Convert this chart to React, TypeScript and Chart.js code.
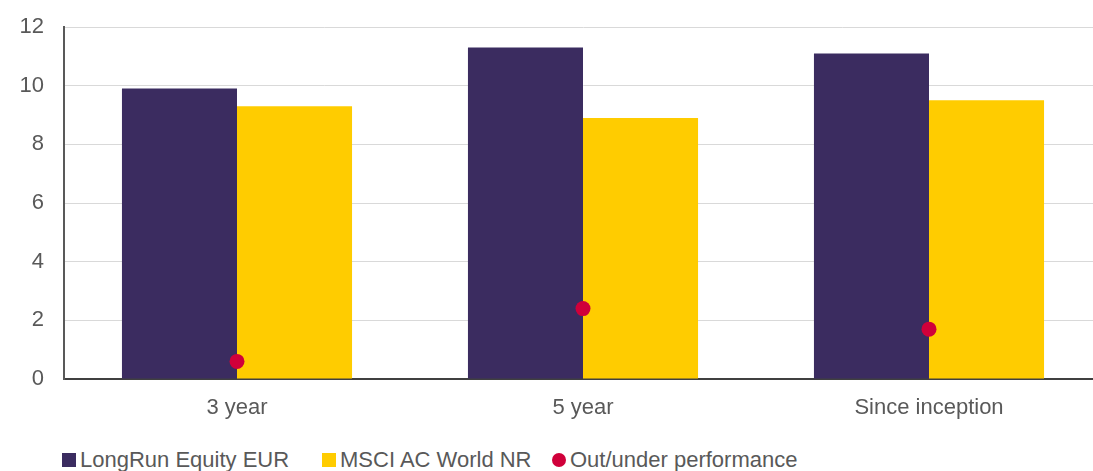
import React, { useEffect, useRef } from "react";
import { Chart, registerables } from "chart.js";

Chart.register(...registerables);

const categories = ["3 year", "5 year", "Since inception"];
const longRunValues = [9.9, 11.3, 11.1];
const msciValues = [9.3, 8.9, 9.5];
const outUnderValues = [0.6, 2.4, 1.7];
const yTicks = [0, 2, 4, 6, 8, 10, 12];

const seriesNames = ["LongRun Equity EUR", "MSCI AC World NR", "Out/under performance"];
const colors = ["#3b2c60", "#ffcc00", "#d0003a"];

const FONT = "'Liberation Sans', Arial, sans-serif";
const TEXT = "#595959";

export default function App() {
  const ref = useRef<HTMLCanvasElement | null>(null);

  useEffect(() => {
    if (!ref.current) return;
    const chart = new Chart(ref.current, {
      type: "bar",
      data: {
        labels: categories,
        datasets: [
          {
            type: "line",
            label: seriesNames[2],
            data: outUnderValues,
            showLine: false,
            pointRadius: 7.5,
            pointHoverRadius: 7.5,
            pointBackgroundColor: colors[2],
            pointBorderColor: colors[2],
            pointBorderWidth: 0,
            backgroundColor: colors[2],
            borderColor: colors[2],
            order: 0,
          } as any,
          {
            label: seriesNames[0],
            data: longRunValues,
            backgroundColor: colors[0],
            borderWidth: 0,
            categoryPercentage: 0.665,
            barPercentage: 1,
            order: 1,
          },
          {
            label: seriesNames[1],
            data: msciValues,
            backgroundColor: colors[1],
            borderWidth: 0,
            categoryPercentage: 0.665,
            barPercentage: 1,
            order: 1,
          },
        ],
      },
      options: {
        responsive: false,
        animation: false,
        layout: { padding: { top: 27, right: 18, left: 0, bottom: 0 } },
        plugins: {
          legend: { display: false },
          tooltip: { enabled: false },
        },
        scales: {
          x: {
            grid: { display: false, drawTicks: false },
            border: { display: true, color: "#404040", width: 2 },
            ticks: {
              color: TEXT,
              font: { family: FONT, size: 22 },
              padding: 16,
              maxRotation: 0,
            },
            afterFit: (s: any) => {
              s.height = 51;
              s.paddingLeft = 0;
              s.paddingRight = 0;
            },
          },
          y: {
            min: 0,
            max: 12,
            afterBuildTicks: (s: any) => {
              s.ticks = yTicks.map((v) => ({ value: v }));
            },
            grid: { color: "#d9d9d9", lineWidth: 1, drawTicks: false },
            border: { display: true, color: "#595959", width: 2 },
            ticks: {
              color: TEXT,
              font: { family: FONT, size: 22 },
              padding: 20,
            },
            afterFit: (s: any) => {
              s.width = 64;
              s.paddingTop = 0;
              s.paddingBottom = 0;
            },
          },
        },
      },
    });
    return () => chart.destroy();
  }, []);

  const legendItems = [
    { left: 62, name: seriesNames[0], color: colors[0], round: false },
    { left: 322, name: seriesNames[1], color: colors[1], round: false },
    { left: 552, name: seriesNames[2], color: colors[2], round: true },
  ];

  return (
    <div
      style={{
        position: "fixed",
        left: 0,
        top: 0,
        width: 1093,
        height: 471,
        overflow: "hidden",
        background: "#ffffff",
      }}
    >
      <canvas ref={ref} width={1120} height={430} style={{ position: "absolute", left: 0, top: 0 }} />
      {legendItems.map((it) => (
        <div
          key={it.name}
          style={{
            position: "absolute",
            left: it.left,
            top: 446,
            height: 28,
            display: "flex",
            alignItems: "center",
            whiteSpace: "nowrap",
            fontFamily: FONT,
            fontSize: 22,
            color: TEXT,
          }}
        >
          <span
            style={{
              display: "inline-block",
              width: 14,
              height: 14,
              background: it.color,
              borderRadius: it.round ? "50%" : 0,
              marginRight: 4,
            }}
          />
          <span>{it.name}</span>
        </div>
      ))}
    </div>
  );
}
